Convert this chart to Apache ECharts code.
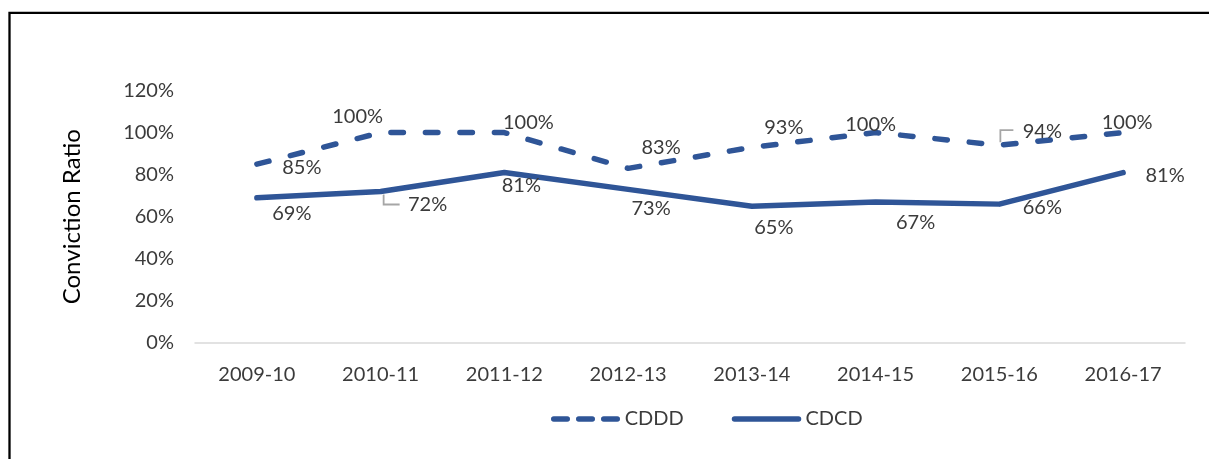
<!DOCTYPE html>
<html>
<head>
<meta charset="utf-8">
<script src="https://cdn.jsdelivr.net/npm/echarts@6/dist/echarts.min.js"></script>
<style>
html,body{margin:0;padding:0;background:#fff;}
#c{width:1209px;height:459px;}
</style>
</head>
<body>
<div id="c"></div>
<script>
const categories = ['2009-10','2010-11','2011-12','2012-13','2013-14','2014-15','2015-16','2016-17'];
const cdddValues = [85, 100, 100, 83, 93, 100, 94, 100];
const cdcdValues = [69, 72, 81, 73, 65, 67, 66, 81];
const yTicks = [0, 20, 40, 60, 80, 100, 120];

// label shifts [dx, dy] from point (layout only)
const cdddOffsets = [[45,3],[-23,-16],[24,-10],[33,-21],[32,-20],[-5,-8],[43,-14],[4,-10]];
const cdcdOffsets = [[35,16],[47,13],[17,13],[23,19],[22,21],[40,21],[43,3],[42,3]];
// leader lines: 1 = goes up from point, -1 = goes down from point
const cdddLeader = [0,0,0,0,0,0,1,0];
const cdcdLeader = [0,-1,0,0,0,0,0,0];

const BLUE = '#2F5597';
const TEXT = '#3b3b3b';
const FONT = 'Lato';

const leaderData = [];
cdddLeader.forEach((d,i)=>{ if (d) leaderData.push([i, cdddValues[i], d]); });
cdcdLeader.forEach((d,i)=>{ if (d) leaderData.push([i, cdcdValues[i], d]); });

function makeLayout(offs){
  return function(p){
    const [dx, dy] = offs[p.dataIndex];
    return {dx: dx, dy: dy};
  };
}

const chart = echarts.init(document.getElementById('c'), null, {renderer:'canvas'});
const labelBase = {
  show: true, position: 'inside', align:'center', verticalAlign:'middle',
  color: TEXT, fontFamily: FONT, fontSize: 20,
  formatter: p => p.value + '%'
};
chart.setOption({
  animation: false,
  backgroundColor: '#fff',
  graphic: [{
    type: 'rect', silent: true, z: 100,
    shape: {x: 9.5, y: 12.8, width: 1400, height: 700},
    style: {fill: 'none', stroke: '#000', lineWidth: 2.3}
  }],
  grid: {left: 195, right: 24, top: 90.5, bottom: 116, containLabel: false},
  legend: {
    left: 546, top: 404,
    itemWidth: 64, itemHeight: 22, itemGap: 48,
    textStyle: {color: TEXT, fontFamily: FONT, fontSize: 20, padding:[0,0,0,2]},
    data: [
      {name: 'CDDD', lineStyle: {type: [13.5, 11.5], cap: 'round', width: 5.5, color: BLUE}},
      {name: 'CDCD', lineStyle: {type: 'solid', cap: 'round', width: 5.5, color: BLUE}}
    ]
  },
  xAxis: {
    type: 'category', data: categories, boundaryGap: true,
    axisLine: {lineStyle: {color: '#D9D9D9', width: 1.5}},
    axisTick: {show: false},
    axisLabel: {color: TEXT, fontFamily: FONT, fontSize: 20, margin: 22}
  },
  yAxis: {
    type: 'value', min: 0, max: 120, interval: 20,
    name: 'Conviction Ratio', nameLocation: 'middle', nameGap: 111,
    nameTextStyle: {color: '#000', fontFamily: FONT, fontSize: 24},
    axisLine: {show: false}, axisTick: {show: false}, splitLine: {show: false},
    axisLabel: {color: TEXT, fontFamily: FONT, fontSize: 20, margin: 21,
      formatter: v => yTicks.includes(v) ? v + '%' : ''}
  },
  series: [
    {
      name: 'CDDD', type: 'line', symbol: 'circle', symbolSize: 0,
      itemStyle: {color: 'rgba(0,0,0,0)', borderWidth: 0},
      lineStyle: {color: BLUE, width: 5.5, type: [12.5, 22], cap: 'round', join: 'round'},
      label: labelBase,
      labelLayout: makeLayout(cdddOffsets),
      data: cdddValues
    },
    {
      name: 'CDCD', type: 'line', symbol: 'circle', symbolSize: 0,
      itemStyle: {color: 'rgba(0,0,0,0)', borderWidth: 0},
      lineStyle: {color: BLUE, width: 5.5, type: 'solid', cap: 'round', join: 'round'},
      label: labelBase,
      labelLayout: makeLayout(cdcdOffsets),
      data: cdcdValues
    },
    {
      name: 'leaders', type: 'custom', silent: true, z: 1,
      data: leaderData,
      renderItem: function(params, api){
        const pt = api.coord([api.value(0), api.value(1)]);
        const dir = api.value(2);
        let pts;
        if (dir > 0) {
          pts = [[pt[0] + 1, pt[1] - 3], [pt[0] + 1, pt[1] - 15], [pt[0] + 14, pt[1] - 15]];
        } else {
          pts = [[pt[0] + 3, pt[1] + 3], [pt[0] + 3, pt[1] + 13], [pt[0] + 19, pt[1] + 13]];
        }
        return {
          type: 'polyline', shape: {points: pts},
          style: {stroke: '#A6A6A6', lineWidth: 1.8, fill: null}
        };
      }
    }
  ]
});
</script>
</body>
</html>
